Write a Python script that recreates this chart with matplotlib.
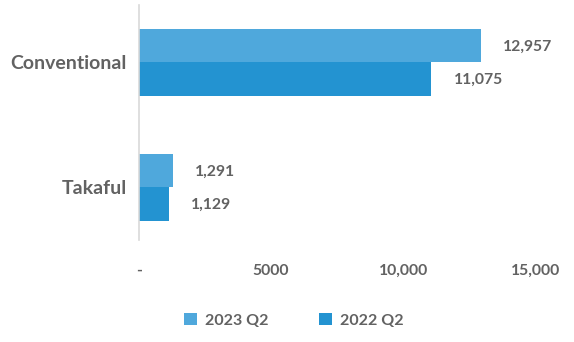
import matplotlib
matplotlib.use("Agg")
import matplotlib.pyplot as plt
import numpy as np

# premiums by segment (bars listed bottom to top)
categories = ["Takaful", "Conventional"]
series_names = ["2023 Q2", "2022 Q2"]
values_2023 = [1291, 12957]
values_2022 = [1129, 11075]
tick_values = [0, 5000, 10000, 15000]
tick_labels = ["-", "5000", "10,000", "15,000"]

colors = ["#4fa8dc", "#2393d1"]
text_grey = "#626262"

plt.rcParams["font.family"] = ["Lato", "DejaVu Sans"]
plt.rcParams["font.weight"] = "bold"

fig = plt.figure(figsize=(5.74, 3.42), dpi=100)
ax = fig.add_axes([0.2422, 0.298, 0.69, 0.687])

y = np.arange(len(categories))
h = 0.268
series = [values_2023, values_2022]
for i, (vals, name) in enumerate(zip(series, series_names)):
    offset = h / 2 if i == 0 else -h / 2
    bars = ax.barh(y + offset, vals, height=h, color=colors[i], label=name)
    for b, v in zip(bars, vals):
        ax.annotate("{:,}".format(v), (b.get_width(), b.get_y() + b.get_height() / 2),
                    xytext=(16, -1), textcoords="offset points",
                    ha="left", va="center", fontsize=11.3, color=text_grey, fontweight="bold")

ax.set_xlim(0, 15000)
ax.set_ylim(-0.424, 1.456)
ax.set_yticks(y)
ax.set_yticklabels(categories)
ax.set_xticks(tick_values)
ax.set_xticklabels(tick_labels)
ax.tick_params(axis="y", length=0, pad=9, labelsize=14, labelcolor=text_grey)
ax.tick_params(axis="x", length=0, pad=17, labelsize=11.3, labelcolor=text_grey)

for side in ["top", "right", "bottom"]:
    ax.spines[side].set_visible(False)
ax.spines["left"].set_color("#d9d9d9")
ax.spines["left"].set_linewidth(1.2)

leg = fig.legend(loc="lower center", bbox_to_anchor=(0.512, 0.0), ncol=2, frameon=False,
                 fontsize=11.5, handlelength=0.8, handleheight=0.8, columnspacing=3.2,
                 handletextpad=0.5, labelcolor=text_grey)

fig.savefig("out.png", dpi=100)
